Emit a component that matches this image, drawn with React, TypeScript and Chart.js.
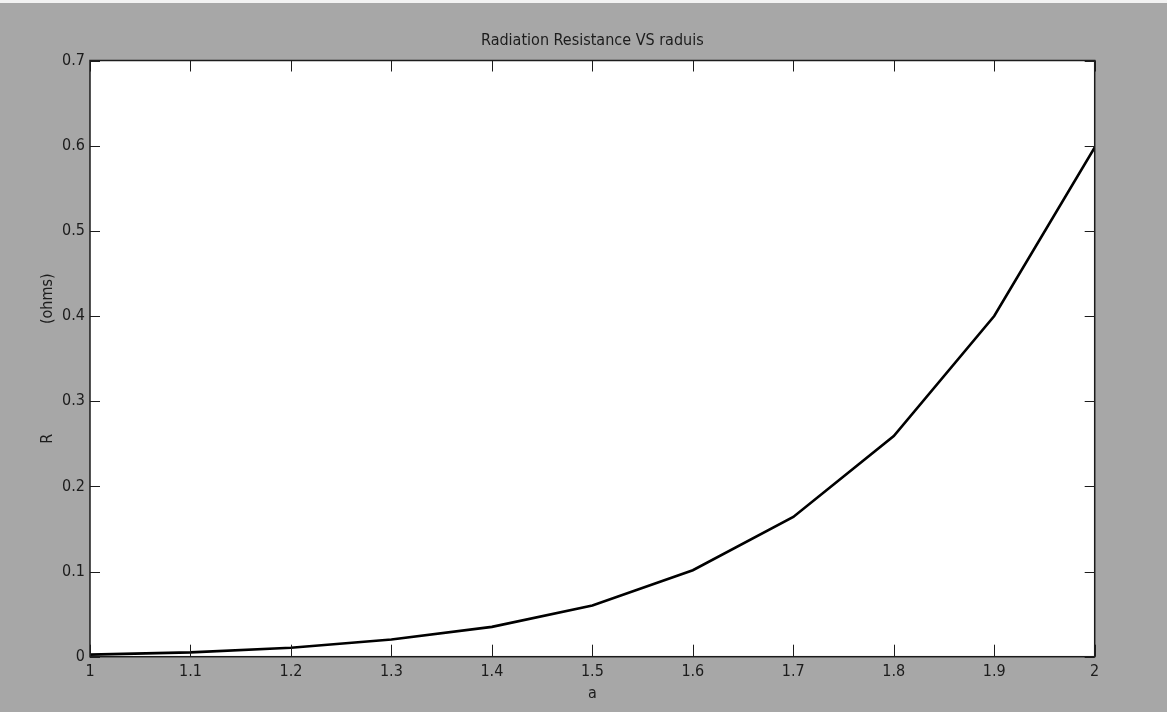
import React, { useEffect, useRef } from "react";
import { Chart, registerables } from "chart.js";

Chart.register(...registerables);

const radiusA = [1.0, 1.1, 1.2, 1.3, 1.4, 1.5, 1.6, 1.7, 1.8, 1.9, 2.0];
const resistanceR = [0.0024, 0.0051, 0.0105, 0.0201, 0.035, 0.06, 0.1015, 0.164, 0.259, 0.4, 0.598];
const xTickLabels = ["1", "1.1", "1.2", "1.3", "1.4", "1.5", "1.6", "1.7", "1.8", "1.9", "2"];
const yTickLabels = ["0", "0.1", "0.2", "0.3", "0.4", "0.5", "0.6", "0.7"];

const chartTitle = "Radiation Resistance VS raduis";
const xTitle = "a";
const yTitle = "R                        (ohms)";

const FONT = '"Liberation Sans Narrow", "DejaVu Sans Condensed", "Liberation Sans", Arial, sans-serif';
const PAGE_BG = "#a7a7a7";
const INK = "#1c1c1c";

const frame = {
  id: "matlabFrame",
  beforeDraw(chart: any) {
    const { ctx, chartArea: a, width, height } = chart;
    ctx.save();
    ctx.fillStyle = PAGE_BG;
    ctx.fillRect(0, 0, width, height);
    ctx.fillStyle = "#f2f2f2";
    ctx.fillRect(0, 0, width, 3);
    ctx.fillStyle = "#ffffff";
    ctx.fillRect(a.left, a.top, a.right - a.left, a.bottom - a.top);
    ctx.restore();
  },
  afterDraw(chart: any) {
    const { ctx, chartArea: a, scales } = chart;
    ctx.save();
    ctx.strokeStyle = INK;
    ctx.lineWidth = 1;
    ctx.beginPath();
    scales.x.ticks.forEach((t: any) => {
      const px = Math.round(scales.x.getPixelForValue(t.value)) + 0.5;
      ctx.moveTo(px, a.bottom);
      ctx.lineTo(px, a.bottom - 12);
      ctx.moveTo(px, a.top);
      ctx.lineTo(px, a.top + 11);
    });
    scales.y.ticks.forEach((t: any) => {
      const py = Math.round(scales.y.getPixelForValue(t.value)) + 0.5;
      ctx.moveTo(a.left, py);
      ctx.lineTo(a.left + 10, py);
      ctx.moveTo(a.right, py);
      ctx.lineTo(a.right - 10, py);
    });
    ctx.stroke();
    ctx.lineWidth = 1.5;
    ctx.strokeRect(a.left, a.top, a.right - a.left, a.bottom - a.top);
    ctx.restore();
  },
};

export default function App() {
  const ref = useRef<HTMLCanvasElement>(null);

  useEffect(() => {
    if (!ref.current) return;
    const chart = new Chart(ref.current, {
      type: "line",
      data: {
        datasets: [
          {
            data: radiusA.map((x, i) => ({ x, y: resistanceR[i] })),
            borderColor: "#000000",
            borderWidth: 2.6,
            pointRadius: 0,
            tension: 0,
            fill: false,
          },
        ],
      },
      plugins: [frame],
      options: {
        animation: false,
        responsive: true,
        maintainAspectRatio: false,
        layout: { padding: { left: 0, right: 72.3, top: 0, bottom: 0 } },
        plugins: {
          legend: { display: false },
          tooltip: { enabled: false },
          title: {
            display: true,
            text: chartTitle,
            fullSize: false,
            color: INK,
            font: { family: FONT, size: 16, weight: "normal", lineHeight: 1.2 },
            padding: { top: 31, bottom: 10.3 },
          },
        },
        scales: {
          x: {
            type: "linear",
            min: 1,
            max: 2,
            border: { display: false },
            grid: { display: false, drawTicks: false },
            ticks: {
              stepSize: 0.1,
              color: INK,
              padding: 6,
              maxRotation: 0,
              autoSkip: false,
              font: { family: FONT, size: 16 },
              callback: (v: any) => xTickLabels[Math.round((Number(v) - 1) * 10)] ?? "",
            },
            title: {
              display: true,
              text: xTitle,
              color: INK,
              font: { family: FONT, size: 16 },
              padding: { top: 0, bottom: 9 },
            },
            afterFit: (s: any) => {
              s.height = 55.3;
            },
          },
          y: {
            type: "linear",
            min: 0,
            max: 0.7,
            border: { display: false },
            grid: { display: false, drawTicks: false },
            ticks: {
              stepSize: 0.1,
              color: INK,
              padding: 5,
              autoSkip: false,
              font: { family: FONT, size: 16 },
              callback: (v: any) => yTickLabels[Math.round(Number(v) * 10)] ?? "",
            },
            title: {
              display: true,
              text: yTitle,
              color: INK,
              font: { family: FONT, size: 16 },
              padding: { top: 38, bottom: 0 },
            },
            afterFit: (s: any) => {
              s.width = 90;
            },
          },
        },
      },
    });
    return () => chart.destroy();
  }, []);

  return (
    <div style={{ position: "fixed", left: 0, top: 0, width: 1167, height: 712 }}>
      <canvas ref={ref} />
    </div>
  );
}
